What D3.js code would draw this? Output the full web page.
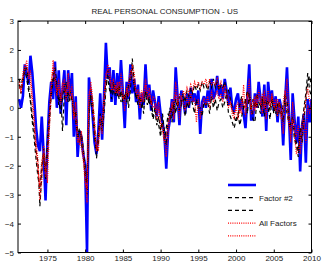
<!DOCTYPE html>
<html>
<head>
<meta charset="utf-8">
<script src="https://cdn.jsdelivr.net/npm/d3@7"></script>
<style>
  body { margin: 0; background: #fff; }
  text { font-family: "Liberation Sans", Arial, sans-serif; }
</style>
</head>
<body>
<div id="chart"></div>
<script>
// Quarterly observations, 1971Q2 .. 2010Q1 (one row = one year)
const startYear = 1971.25;

const actual = [
  0.3, 0.0, 0.4, 1.5,   1.2, 0.8, 1.8, 1.2,   0.3, -0.7, -1.3, -1.5,  -0.3, -1.6, -3.2, -1.2,
  0.2, 0.9, 0.3, 1.6,   0.0, 1.3, -0.2, 0.6,  1.3, -0.6, 1.3, 0.4,    1.2, -1.0, 0.4, -1.7,
  -0.8, -1.0, -1.6, -2.0, -5.0, 1.05, 0.5, -0.3, -1.2, -1.6, -0.8, 0.5, -1.1, 0.4, 2.25, 1.0,
  1.4, 0.2, 1.3, 0.1,   1.2, 0.4, 1.65, 0.5,  -0.7, 0.9, 0.3, 1.5,    0.5, 1.0, 0.2, 0.8,
  -0.4, 0.5, 0.1, 1.5,  0.3, 0.8, -0.1, 0.6,  0.2, -0.3, 0.4, -0.2,   -0.5, -0.9, -2.1, -0.8,
  -0.4, 0.3, -0.5, 1.4, 0.4, -0.6, 0.6, 0.3,  -0.2, 0.5, 0.0, 0.7,    0.2, 0.5, 0.1, 0.6,
  -0.9, 0.2, 0.4, 0.0,  0.6, 0.2, 1.0, 0.3,   0.5, 1.1, 0.4, 0.8,     0.3, 1.0, 0.6, 0.1,
  0.7, 0.0, -0.1, 0.3,  0.5, -0.1, 0.3, -0.2, -0.7, 0.4, 1.5, -0.4,   -0.4, 0.5, 0.0, 0.9,
  0.3, -0.3, 0.8, -0.8, 0.9, 0.2, 0.6, -0.1,  0.4, -0.5, 0.3, 0.0,    -1.3, 0.2, 1.4, -0.2,
  -1.8, 0.5, -0.4, -1.2, -0.3, -2.2, -0.6, -0.2, -1.9, 0.3, -0.5, 0.3
];

const factor2a = [
  0.8, 0.5, 0.9, 1.4,   1.0, 0.6, 0.3, -0.3,  -0.8, -1.5, -1.9, -3.4, -2.3, -1.4, -2.5, -1.6,
  -0.6, 0.4, 0.9, 1.4,  0.8, 0.1, 0.5, -0.8,  0.5, 0.9, 0.2, 0.6,     0.3, -0.3, -0.1, -0.8,
  -1.2, -0.9, -1.4, -2.0, -3.0, -0.3, 0.6, 0.2, -0.6, -1.75, -1.2, -0.5, -0.8, -0.2, 0.6, 1.3,
  0.9, 0.3, 0.6, 0.8,   0.4, 0.8, 0.2, 0.5,   0.3, 0.7, 0.0, 0.6,     1.7, 0.9, 0.3, 0.5,
  0.1, 0.3, -0.2, 0.6,  0.4, 0.1, 0.3, -0.3,  0.0, -0.4, -0.6, -1.0,  -0.2, -0.8, -1.3, -0.4,
  0.0, -0.5, 0.2, -0.2, 0.3, -0.1, 0.1, 0.3,  -0.3, 0.2, 0.0, 0.4,    0.1, -0.2, 0.3, 0.0,
  0.0, -0.3, 0.2, 0.1,  0.2, -0.2, 0.4, 0.0,  0.3, -0.1, 0.2, 0.3,    0.0, 0.2, 0.5, -0.2,
  -0.3, -0.5, -0.7, -0.4, -0.2, -0.6, -0.3, 0.0, 0.3, -0.2, 0.5, 0.1, -0.4, -0.5, 0.2, 0.0,
  -0.2, 0.3, -0.3, 0.2, 0.0, -0.4, 0.3, -0.2, 0.1, -0.3, 0.2, -0.1,   -0.5, 0.5, 0.2, -0.3,
  -0.6, -0.3, -0.9, -1.2, -1.5, -0.7, -1.2, -0.4, 0.2, 0.9, 1.1, 0.7
];

const factor2b = [
  1.0, 0.7, 1.1, 1.2,   1.4, 0.8, 0.2, -0.5,  -1.1, -1.8, -2.4, -2.8, -2.0, -1.6, -2.2, -1.2,
  -0.2, 0.6, 1.2, 1.0,  0.5, 0.3, -0.2, 0.4,  0.8, 0.3, 0.5, 0.2,     0.4, 0.0, -0.5, -1.0,
  -0.7, -1.2, -1.6, -2.4, -2.6, 0.0, 0.4, -0.2, -1.0, -1.5, -0.9, -0.2, -0.6, 0.2, 0.9, 1.0,
  0.6, 0.5, 0.9, 0.4,   0.7, 0.3, 0.6, 0.2,   0.5, 0.2, 0.8, 1.1,     1.4, 0.6, 0.4, 0.1,
  0.4, 0.0, 0.3, 0.5,   0.1, 0.4, 0.0, -0.4,  -0.1, -0.6, -0.3, -0.8, -0.5, -1.1, -0.7, -0.2,
  -0.4, 0.1, -0.2, 0.3, 0.0, 0.4, 0.2, 0.5,   0.2, 0.6, 0.4, 0.7,     0.5, 0.8, 0.6, 0.8,
  0.6, 0.9, 0.7, 0.8,   0.6, 0.9, 0.7, 1.0,   0.7, 0.9, 0.6, 0.8,     0.7, 0.9, 0.5, 0.6,
  0.3, 0.0, -0.3, -0.5, -0.3, 0.1, 0.4, 0.0,  0.2, 0.6, 0.3, -0.1,    0.3, 0.0, 0.5, 0.2,
  0.0, 0.4, 0.1, 0.3,   0.2, -0.1, 0.4, 0.0,  -0.2, 0.2, -0.1, -0.3,  0.1, 0.3, -0.2, -0.5,
  -0.8, -0.5, -1.1, -1.3, -1.7, -0.9, -0.6, 0.0, 0.5, 1.2, 0.6, 0.4
];

const allFactorsA = [
  0.9, 0.5, 1.0, 1.3,   1.65, 1.0, 1.3, 0.4,  -0.3, -1.2, -1.8, -3.2, -2.5, -1.3, -2.0, -2.6,
  -0.8, 0.5, 1.65, 1.2, 0.4, 1.0, 0.1, 0.6,   1.0, 0.2, 1.2, 0.5,     0.8, -0.4, 0.2, -0.9,
  -1.3, -0.8, -1.5, -2.2, -3.3, 0.2, 0.9, 0.3, -0.5, -1.3, -1.5, -0.5, -0.9, 0.1, 1.0, 1.5,
  1.3, 0.6, 1.0, 0.5,   0.9, 0.4, 1.2, 0.6,   -0.1, 0.7, 0.4, 1.0,    1.5, 1.2, 0.5, 0.6,
  0.0, 0.6, 0.2, 1.0,   0.5, 0.7, 0.1, 0.4,   0.3, -0.1, 0.2, -0.5,   -0.6, -1.0, -1.7, -0.9,
  -0.3, 0.2, -0.4, 0.9, 0.3, -0.4, 0.4, 0.2,  -0.1, 0.4, 0.1, 0.5,    0.2, 0.3, -0.5, 0.3,
  -0.4, 0.1, 0.3, 0.1,  0.4, 0.0, 0.6, 0.2,   0.4, 0.6, 0.3, 0.5,     0.2, 0.6, 0.4, 0.0,
  0.2, -0.2, -0.4, 0.1, -0.4, 0.0, -0.2, 0.8, -0.3, 0.3, 1.0, -0.2,   -0.2, 0.4, 0.0, 0.6,
  0.3, -0.2, 0.6, -0.4, 0.6, 0.1, 0.4, 0.0,   0.3, -0.3, 0.2, -0.1,   -0.9, 0.3, 1.0, -0.1,
  -1.2, 0.2, -0.5, -1.0, -0.6, -1.6, -1.0, -0.4, -1.2, 0.1, -0.2, 0.2
];

const allFactorsB = [
  0.7, 0.6, 1.2, 1.5,   1.4, 1.2, 0.9, 0.1,   -0.6, -1.5, -2.2, -2.7, -1.8, -1.6, -2.4, -1.5,
  -0.3, 0.9, 1.4, 0.8,  0.6, 0.7, 0.3, 0.9,   0.6, 0.5, 0.9, 0.3,     0.5, -0.2, -0.4, -1.2,
  -1.0, -1.4, -1.8, -2.6, -2.8, 0.5, 0.7, 0.0, -0.8, -1.5, -1.0, -0.3, -0.5, 0.4, 1.2, 1.3,
  1.0, 0.8, 0.6, 0.8,   0.5, 0.9, 0.7, 0.3,   0.4, 0.5, 0.9, 1.3,     1.2, 0.8, 0.6, 0.3,
  0.5, 0.2, 0.6, 0.8,   0.3, 0.5, 0.2, 0.0,   0.1, -0.4, 0.0, -0.6,   -0.8, -1.2, -1.0, -0.5,
  -0.2, 0.0, 0.3, 0.5,  0.1, 0.5, 0.3, 0.6,   0.4, 0.7, 0.5, 0.8,     0.6, 0.9, 0.7, 0.9,
  0.7, 0.9, 0.8, 1.0,   0.7, 1.0, 0.8, 0.9,   0.8, 1.0, 0.7, 0.9,     0.6, 0.8, 0.5, 0.4,
  0.2, -0.1, -0.2, 0.0, 0.2, -0.2, 0.3, 0.1,  0.0, 0.5, 0.2, 0.0,     0.3, -0.1, 0.4, 0.3,
  0.1, 0.5, 0.0, 0.4,   0.3, 0.0, 0.5, 0.1,   -0.1, 0.3, 0.0, -0.4,   0.2, 0.6, -0.1, -0.6,
  -0.9, -0.4, -1.0, -1.6, -1.4, -1.1, -0.5, -0.2, 0.3, 0.7, 0.2, 0.3
];

const xTicks = [1975, 1980, 1985, 1990, 1995, 2000, 2005, 2010];
const yTicks = [-5, -4, -3, -2, -1, 0, 1, 2, 3];
const legendLabels = ["", "Factor #2", "", "All Factors", ""];

const width = 322, height = 263;
const margin = {top: 21, right: 10.5, bottom: 10.5, left: 18};

const svg = d3.select('#chart')
              .append('svg')
              .attr('width', width)
              .attr('height', height);

const x = d3.scaleLinear()
            .domain([1971.1, 2010])
            .range([margin.left, width - margin.right]);

const y = d3.scaleLinear()
            .domain([-5, 3])
            .range([height - margin.bottom, margin.top]);

svg.append('clipPath')
    .attr('id', 'plot-clip')
  .append('rect')
    .attr('x', margin.left)
    .attr('y', margin.top)
    .attr('width', width - margin.left - margin.right)
    .attr('height', height - margin.top - margin.bottom);

const line = d3.line()
               .x((_, i) => x(startYear + i * 0.25))
               .y(d => y(d));

// series styles: blue solid, black dashed, red dotted
const series = [
    {values: actual,      stroke: '#0000ff', width: 2.6, dash: null},
    {values: factor2a,    stroke: '#000',    width: 1.2, dash: '4,3'},
    {values: factor2b,    stroke: '#000',    width: 1.2, dash: '4,3'},
    {values: allFactorsA, stroke: '#ff0000', width: 1.2, dash: '1,1.2'},
    {values: allFactorsB, stroke: '#ff0000', width: 1.2, dash: '1,1.2'}
];

svg.append('g')
    .attr('clip-path', 'url(#plot-clip)')
  .selectAll('path')
  .data(series)
  .join('path')
    .attr('fill', 'none')
    .attr('stroke', d => d.stroke)
    .attr('stroke-width', d => d.width)
    .attr('stroke-dasharray', d => d.dash)
    .attr('d', d => line(d.values));

// axes, ticks pointing inward on all four sides
const fontSize = 8;

const axisBottomG = svg.append('g')
    .attr('transform', `translate(0,${height - margin.bottom})`)
    .call(d3.axisBottom(x).tickValues(xTicks).tickSize(-3).tickPadding(3).tickFormat(d3.format('d')));

const axisTopG = svg.append('g')
    .attr('transform', `translate(0,${margin.top})`)
    .call(d3.axisTop(x).tickValues(xTicks).tickSize(-3).tickFormat(''));

const axisLeftG = svg.append('g')
    .attr('transform', `translate(${margin.left},0)`)
    .call(d3.axisLeft(y).tickValues(yTicks).tickSize(-3).tickPadding(4));

const axisRightG = svg.append('g')
    .attr('transform', `translate(${width - margin.right},0)`)
    .call(d3.axisRight(y).tickValues(yTicks).tickSize(-3).tickFormat(''));

[axisBottomG, axisTopG, axisLeftG, axisRightG].forEach(g => {
    g.select('.domain').remove();
    g.selectAll('text')
        .attr('font-size', fontSize)
        .attr('font-family', '"Liberation Sans", Arial, sans-serif')
        .attr('fill', '#222');
});

svg.append('rect')
    .attr('x', margin.left)
    .attr('y', margin.top)
    .attr('width', width - margin.left - margin.right)
    .attr('height', height - margin.top - margin.bottom)
    .attr('fill', 'none')
    .attr('stroke', '#000')
    .attr('stroke-width', 1);

// title
svg.append('text')
    .attr('x', (margin.left + width - margin.right) / 2)
    .attr('y', 14)
    .attr('text-anchor', 'middle')
    .attr('font-size', fontSize)
    .attr('fill', '#222')
    .text('REAL PERSONAL CONSUMPTION - US');

// legend (no box)
const legend = svg.append('g')
    .attr('transform', 'translate(228,185)');

const entries = legend.selectAll('g')
    .data(series)
    .join('g')
      .attr('transform', (_, i) => `translate(0,${i * 12.7})`);

entries.append('line')
    .attr('x1', 0)
    .attr('x2', 28)
    .attr('stroke', d => d.stroke)
    .attr('stroke-width', d => d.width)
    .attr('stroke-dasharray', d => d.dash);

entries.append('text')
    .attr('x', 31)
    .attr('y', 3)
    .attr('font-size', fontSize)
    .attr('fill', '#222')
    .text((_, i) => legendLabels[i]);
</script>
</body>
</html>
